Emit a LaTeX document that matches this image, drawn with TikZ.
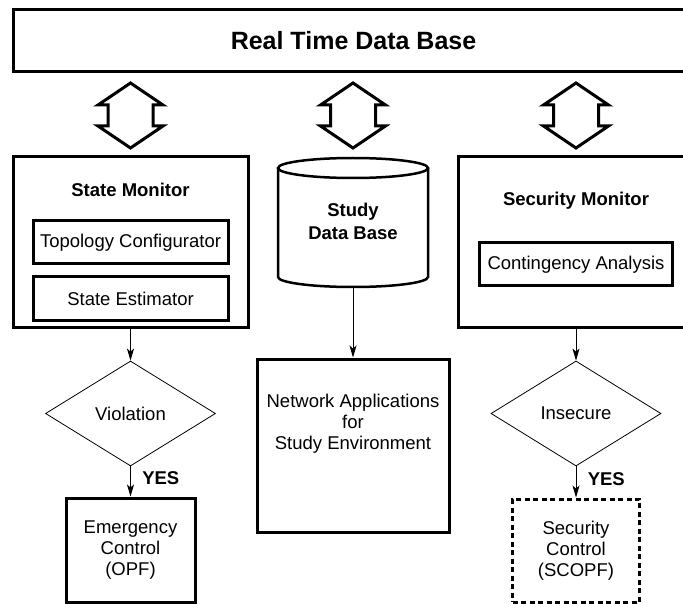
\documentclass[tikz,border=0pt]{standalone}
\usepackage{fontspec}
\setmainfont{Liberation Sans}
\usetikzlibrary{shapes.geometric,arrows.meta,positioning}
\newcommand{\txtsize}{\fontsize{18.5pt}{21pt}\selectfont}

\begin{document}
\begin{tikzpicture}[
    x=1pt, y=-1pt,
    every node/.style={font=\txtsize, align=center},
    block/.style={draw=black, line width=3pt, inner sep=0pt},
    subblock/.style={block, minimum width=195pt, minimum height=43pt},
    decision/.style={draw=black, diamond, line width=0.8pt, minimum width=170pt, minimum height=105pt, aspect=1.6, inner sep=0pt},
    flow/.style={draw, line width=0.9pt, -{Stealth[length=12pt,width=7pt,inset=3pt]}},
    yes/.style={font=\txtsize\bfseries, right, xshift=8pt, pos=0.4},
    bigarrow/.style={draw=black, line width=3pt, line join=miter, fill=white}
    ]
    \useasboundingbox (0,0) rectangle (683,604);
    \clip (0,0) rectangle (683,604);

    % real time data base
    \node[block, minimum width=681pt, minimum height=62pt, font=\fontsize{25pt}{28pt}\selectfont\bfseries] (rtdb) at (353.5,41) {Real Time Data Base};

    \foreach \x in {130.5,353,576}
      \draw[bigarrow] (\x,83) -- (\x+32.5,105) -- (\x+22.5,105) -- (\x+22.5,126) -- (\x+32.5,126) -- (\x,148)
        -- (\x-32.5,126) -- (\x-22.5,126) -- (\x-22.5,105) -- (\x-32.5,105) -- cycle;

    % state monitor
    \node[block, minimum width=235pt, minimum height=170pt] (statemon) at (130.5,242) {};
    \node[font=\txtsize\bfseries] (statetitle) at (130.5,190) {State Monitor};
    \node[subblock] (topo) at (130.5,242.5) {Topology Configurator};
    \node[subblock, below=10pt of topo] (estim) {State Estimator};

    % study data base
    \draw[line width=2.5pt] (353,168) ellipse [x radius=75pt, y radius=10pt];
    \draw[line width=2.5pt] (278,168) -- (278,277) arc[start angle=180, end angle=360, x radius=75pt, y radius=10pt] -- (428,168);
    \node[font=\txtsize\bfseries] (studydb) at (353,221) {Study\\[2pt]Data Base};
    \coordinate (studybot) at (353,287);

    % security monitor
    \node[block, minimum width=236pt, minimum height=170pt] (secmon) at (576,242) {};
    \node[font=\txtsize\bfseries] (sectitle) at (576,201) {Security Monitor};
    \node[subblock, minimum width=193pt] (contin) at (576,264.5) {Contingency Analysis};

    % applications and controls
    \node[block, minimum width=192pt, minimum height=173pt] (netapp) at (353,445.5) {};
    \node (netapptxt) at (353,424) {Network Applications\\for\\Study Environment};
    \node[decision] (viol) at (130.5,413.5) {Violation};
    \node[decision] (insec) at (576,413.5) {Insecure};
    \node[block, minimum width=129pt, minimum height=104pt] (emerg) at (130.5,550) {Emergency\\Control\\(OPF)};
    \node[block, dash pattern=on 5pt off 3.5pt, minimum width=127pt, minimum height=103pt] (secctrl) at (576,550.5) {Security\\Control\\(SCOPF)};

    \draw[flow] (statemon) -- (viol);
    \draw[flow] (viol) -- node[yes] {YES} (emerg);
    \draw[flow] (studybot) -- (netapp);
    \draw[flow] (secmon) -- (insec);
    \draw[flow] (insec) -- node[yes] {YES} (secctrl);
\end{tikzpicture}
\end{document}
